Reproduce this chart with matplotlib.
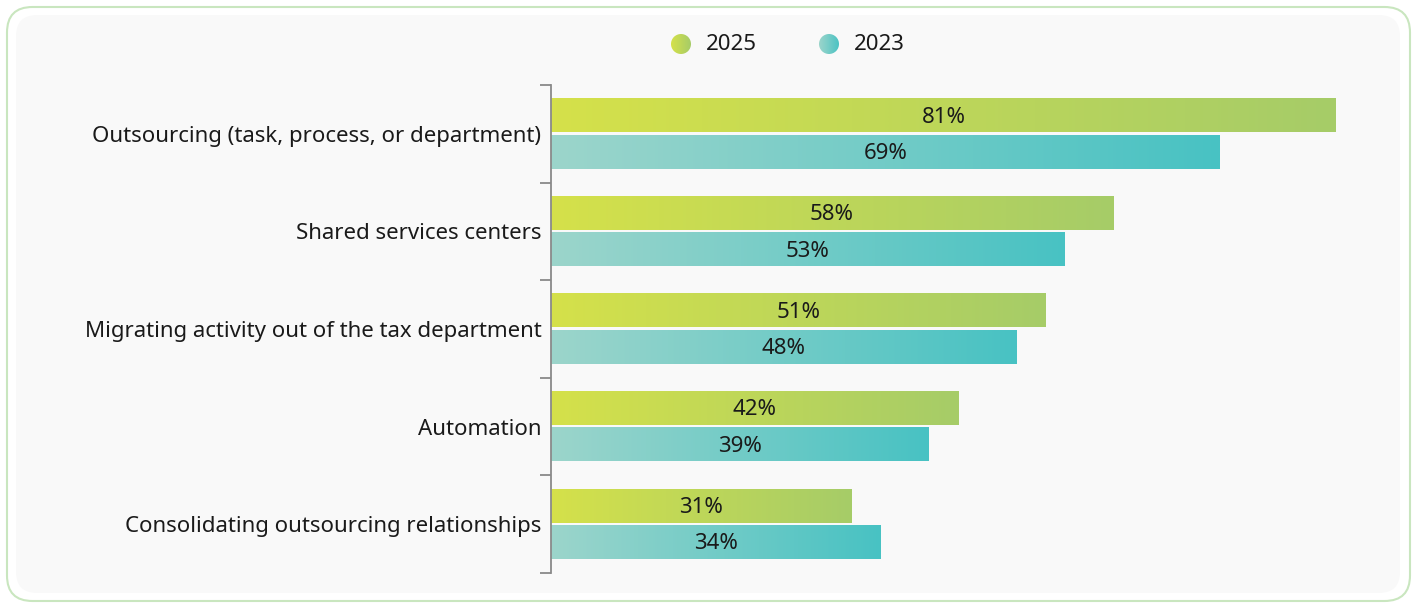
import numpy as np
import matplotlib
matplotlib.use("Agg")
import matplotlib.pyplot as plt
from matplotlib.patches import FancyBboxPatch, Circle
from matplotlib.colors import LinearSegmentedColormap

categories = [
    "Outsourcing (task, process, or department)",
    "Shared services centers",
    "Migrating activity out of the tax department",
    "Automation",
    "Consolidating outsourcing relationships",
]
series_names = ["2025", "2023"]
values_2025 = [81, 58, 51, 42, 31]
values_2023 = [69, 53, 48, 39, 34]

plt.rcParams['font.family'] = ['Noto Sans', 'DejaVu Sans']
TXT = "#1a1a1a"
FS = 16

W, H = 1416, 603
fig = plt.figure(figsize=(W / 100, H / 100), dpi=100)
fig.patch.set_facecolor("white")

def px(x0, y0, x1, y1):
    return [x0 / W, 1 - y1 / H, (x1 - x0) / W, (y1 - y0) / H]

# outer border and inner panel
outer = FancyBboxPatch((7 / W, 1 - 601 / H), (1410 - 7) / W, (601 - 7) / H,
                       boxstyle="round,pad=0,rounding_size=0.018",
                       transform=fig.transFigure, facecolor="white",
                       edgecolor="#c9e6bf", linewidth=1.5, mutation_aspect=W / H,
                       zorder=-2)
fig.patches.append(outer)
inner = FancyBboxPatch((16 / W, 1 - 593 / H), (1400 - 16) / W, (593 - 15) / H,
                       boxstyle="round,pad=0,rounding_size=0.015",
                       transform=fig.transFigure, facecolor="#f9f9f9",
                       edgecolor="none", mutation_aspect=W / H, zorder=-1)
fig.patches.append(inner)

cmap25 = LinearSegmentedColormap.from_list("g25", ["#d5e14a", "#a6cc68"])
cmap23 = LinearSegmentedColormap.from_list("g23", ["#9cd5cb", "#48c2c3"])
grad = np.linspace(0, 1, 256).reshape(1, -1)

ax = fig.add_axes(px(551, 85, 1400, 573))
ax.set_facecolor("none")
xmax = (1400 - 551) / ((1337 - 552) / 81)

h = 0.34
off = 0.187
for i, cat in enumerate(categories):
    for v, dy, cm in ((values_2025[i], -off, cmap25), (values_2023[i], off, cmap23)):
        yc = i + 0.5 + dy
        ax.imshow(grad, extent=[0, v, yc + h / 2, yc - h / 2], cmap=cm,
                  aspect="auto", interpolation="bilinear", zorder=2)
        ax.text(v / 2, yc + 0.015, f"{v}%", ha="center", va="center", fontsize=FS,
                color=TXT, zorder=3)

ax.set_xlim(0, xmax)
ax.set_ylim(len(categories), 0)
for s in ["top", "right", "bottom"]:
    ax.spines[s].set_visible(False)
ax.spines["left"].set_color("#8a8a8a")
ax.spines["left"].set_linewidth(1.3)
ax.set_xticks([])
ax.set_yticks([i + 0.5 for i in range(len(categories))])
ax.set_yticklabels(categories, fontsize=FS, color=TXT)
ax.tick_params(axis="y", which="major", length=0, pad=7)
ax.set_yticks(range(len(categories) + 1), minor=True)
ax.tick_params(axis="y", which="minor", length=8, width=1.3, color="#8a8a8a")

# legend
for cx, cm, name in ((681, cmap25, "2025"), (829, cmap23, "2023")):
    r = 10
    lax = fig.add_axes(px(cx - r, 44 - r, cx + r, 44 + r))
    lax.set_xlim(0, 1)
    lax.set_ylim(0, 1)
    lax.axis("off")
    im = lax.imshow(grad, extent=[0, 1, 0, 1], cmap=cm, aspect="auto",
                    interpolation="bilinear")
    circ = Circle((0.5, 0.5), 0.5, transform=lax.transData)
    im.set_clip_path(circ)
    fig.text((cx + 25) / W, 1 - 45 / H, name, ha="left", va="center",
             fontsize=FS, color=TXT)

fig.savefig("out.png", dpi=100, facecolor="white")
